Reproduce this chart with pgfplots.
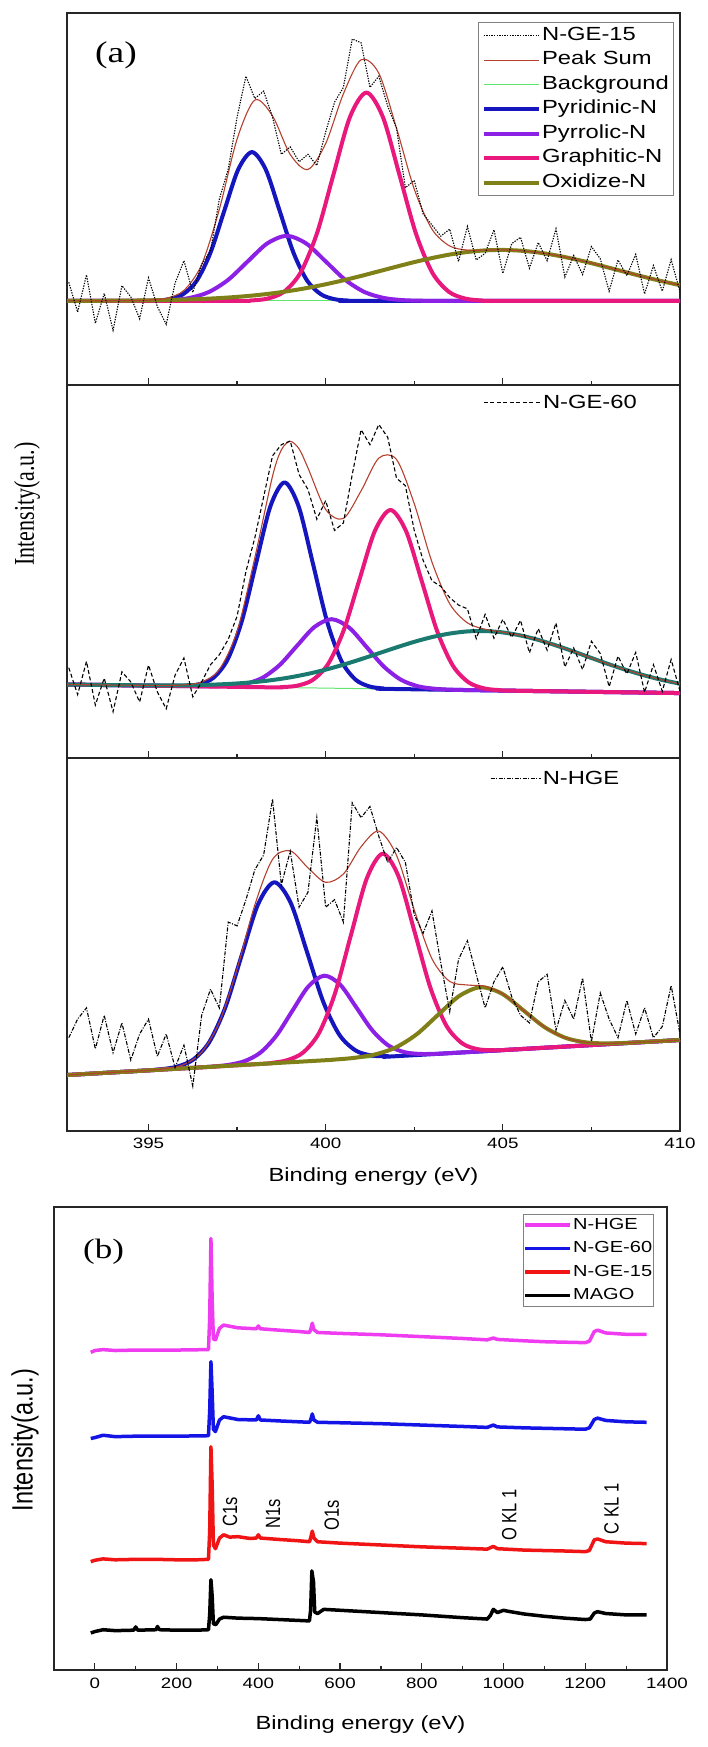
\documentclass[border=0pt]{standalone}
\usepackage{graphicx}
\usepackage{pgfplots}
\pgfplotsset{compat=1.18}
\usepackage{fontspec}
\setmainfont{Liberation Sans}[FakeStretch=1.25]
\newfontfamily\sansplain{Liberation Sans}
\newfontfamily\serifwide{Liberation Serif}[FakeStretch=1.25]
\newfontfamily\serifplain{Liberation Serif}

\definecolor{cBlue}{RGB}{22,22,190}
\definecolor{cPurple}{RGB}{140,32,228}
\definecolor{cPink}{RGB}{232,24,124}
\definecolor{cOlive}{RGB}{128,128,24}
\definecolor{cTeal}{RGB}{26,122,112}
\definecolor{cSum}{RGB}{180,64,46}
\definecolor{cBg}{RGB}{96,230,110}
\definecolor{cMag}{RGB}{240,60,240}
\definecolor{cBlueB}{RGB}{20,20,230}
\definecolor{cRed}{RGB}{240,20,20}

\pgfplotsset{
  frameA/.style={
    scale only axis, width=613pt,
    xmin=392.7, xmax=410, ymin=0, ymax=1,
    xtick={395,400,405,410}, minor xtick={397.5,402.5,407.5},
    ytick=\empty, xtick pos=bottom, tick align=inside,
    major tick length=7pt, minor tick length=4pt,
    axis line style={line width=1.4pt, black!85},
    every tick/.style={line width=1.2pt, black!85},
    /pgf/number format/assume math mode=true,
    /pgf/number format/1000 sep={},
    ticklabel style={font=\fontsize{15}{15}\selectfont},
  },
  comp/.style={line width=4pt, smooth, forget plot, line join=round},
  sumline/.style={cSum, line width=1.1pt, smooth, forget plot},
  bgline/.style={cBg, line width=1pt, forget plot},
}

\begin{document}
\begin{tikzpicture}
\path[use as bounding box] (0pt,0pt) rectangle (707pt,1747pt);

%================ TOP PANEL (N-GE-15)
\begin{axis}[frameA, at={(67pt,1362pt)}, anchor=south west, height=372pt,
  xticklabels={,,,},
  legend style={at={(0.990,0.976)}, anchor=north east, draw=black!50, line width=1pt,
    fill=white, font=\fontsize{19}{19}\selectfont, inner xsep=3pt, inner ysep=3pt,
    row sep=4pt, nodes={inner sep=1.5pt, text height=13.5pt, text depth=4pt}},
  legend cell align=left,
  legend image code/.code={\draw[#1] (0pt,0pt) -- (55pt,0pt);}]
\addlegendimage{black, line width=1.1pt, dash pattern=on 1.3pt off 1.3pt}
\addlegendentry{N-GE-15}
\addlegendimage{cSum, line width=1.1pt}
\addlegendentry{Peak Sum}
\addlegendimage{cBg, line width=1.1pt}
\addlegendentry{Background}
\addlegendimage{cBlue, line width=4pt}
\addlegendentry{Pyridinic-N}
\addlegendimage{cPurple, line width=4pt}
\addlegendentry{Pyrrolic-N}
\addlegendimage{cPink, line width=4pt}
\addlegendentry{Graphitic-N}
\addlegendimage{cOlive, line width=4pt}
\addlegendentry{Oxidize-N}

\addplot[bgline] coordinates {(392.7,.226)(410,.226)};
\addplot[cBlue, comp] coordinates {(392.7,.226)(394.80,.2261)(395.19,.2269)(395.58,.2304)(395.97,.2436)(396.36,.2801)(396.75,.3559)(397.14,.4686)(397.53,.5790)(397.92,.6260)(398.31,.5790)(398.70,.4686)(399.09,.3559)(399.48,.2801)(399.87,.2436)(400.26,.2304)(400.65,.2269)(401.04,.2261)(410,.226)};
\addplot[cPurple, comp] coordinates {(392.7,.226)(394.50,.2260)(395.05,.2264)(395.60,.2279)(396.15,.2337)(396.70,.2497)(397.25,.2828)(397.80,.3321)(398.35,.3804)(398.90,.4010)(399.45,.3804)(400.00,.3321)(400.55,.2828)(401.10,.2497)(401.65,.2337)(402.20,.2279)(402.75,.2264)(403.30,.2260)(410,.226)};
\addplot[cPink, comp] coordinates {(392.7,.226)(397.43,.2262)(397.895,.2272)(398.36,.2322)(398.825,.2506)(399.29,.3018)(399.755,.4078)(400.22,.5656)(400.685,.7202)(401.15,.7860)(401.615,.7202)(402.08,.5656)(402.545,.4078)(403.01,.3018)(403.475,.2506)(403.94,.2322)(404.405,.2272)(404.87,.2262)(410,.226)};
\addplot[cOlive, comp] coordinates {(392.7,.2261)(393,.2262)(393.5,.2263)(394,.2266)(394.5,.2269)(395,.2275)(395.5,.2283)(396,.2295)(396.5,.2312)(397,.2336)(397.5,.2368)(398,.2410)(398.5,.2464)(399,.2531)(399.5,.2612)(400,.2707)(400.5,.2814)(401,.2931)(401.5,.3056)(402,.3181)(402.5,.3303)(403,.3412)(403.5,.3506)(404,.3575)(404.5,.3618)(405,.3630)(405.5,.3610)(406,.3561)(406.5,.3485)(407,.3388)(407.5,.3274)(408,.3151)(408.5,.3026)(409,.2903)(409.5,.2787)(410,.2683)};
\addplot[sumline] coordinates {(392.7,.2261)(393,.2262)(393.5,.2263)(394,.2266)(394.5,.2270)(395,.2282)(395.5,.2330)(396,.2542)(396.5,.3236)(397,.4725)(397.5,.6610)(398,.7659)(398.5,.7233)(399,.6195)(399.5,.5794)(400,.6489)(400.5,.7826)(401,.8743)(401.5,.8380)(402,.6902)(402.5,.5264)(403,.4188)(403.5,.3736)(404,.3626)(404.5,.3626)(405,.3631)(405.5,.3610)(406,.3561)(406.5,.3485)(407,.3388)(407.5,.3274)(408,.3151)(408.5,.3026)(409,.2903)(409.5,.2787)(410,.2683)};
\addplot[black, line width=1.1pt, dash pattern=on 1.3pt off 1.3pt, forget plot] coordinates {(392.75,.276)(393,.196)(393.25,.296)(393.5,.166)(393.75,.246)(394,.147)(394.25,.267)(394.5,.237)(394.75,.178)(395,.288)(395.25,.211)(395.5,.163)(395.75,.274)(396,.334)(396.25,.249)(396.5,.324)(396.75,.36)(397,.50)(397.25,.58)(397.5,.72)(397.75,.83)(398,.77)(398.25,.79)(398.5,.72)(398.75,.62)(399,.64)(399.25,.60)(399.5,.62)(399.75,.59)(400,.68)(400.25,.76)(400.5,.80)(400.75,.93)(401,.92)(401.25,.80)(401.5,.83)(401.75,.75)(402,.69)(402.25,.53)(402.5,.55)(402.75,.46)(403,.43)(403.25,.40)(403.5,.419)(403.75,.332)(404,.426)(404.25,.336)(404.5,.354)(404.75,.417)(405,.300)(405.25,.380)(405.5,.397)(405.75,.314)(406,.383)(406.25,.334)(406.5,.420)(406.75,.290)(407,.348)(407.25,.297)(407.5,.372)(407.75,.339)(408,.252)(408.25,.336)(408.5,.294)(408.75,.351)(409,.245)(409.25,.321)(409.5,.252)(409.75,.337)(410,.250)};
\node[font=\serifwide\fontsize{30}{30}\selectfont] at (rel axis cs:0.08,0.886) {(a)};
\end{axis}

%================ MIDDLE PANEL (N-GE-60)
\begin{axis}[frameA, at={(67pt,989pt)}, anchor=south west, height=373pt,
  xticklabels={,,,},
  legend style={at={(0.679,0.952)}, anchor=west, draw=none, fill=none,
    font=\fontsize{19}{19}\selectfont, inner sep=0pt,
    nodes={inner sep=1.5pt}},
  legend image code/.code={\draw[#1] (0pt,0pt) -- (57pt,0pt);}]
\addplot[bgline] coordinates {(392.7,.197)(410,.174)};
\addplot[cBlue, comp] coordinates {(392.7,.197)(395.64,.1933)(396.04,.1938)(396.44,.1981)(396.84,.2156)(397.24,.2654)(397.64,.3690)(398.04,.5235)(398.44,.6748)(398.84,.7388)(399.24,.6737)(399.64,.5214)(400.04,.3658)(400.44,.2611)(400.84,.2103)(401.24,.1917)(401.64,.1863)(402.04,.1848)(410,.174)};
\addplot[cPurple, comp] coordinates {(392.7,.197)(396.25,.1924)(396.74,.1920)(397.23,.1931)(397.72,.1984)(398.21,.2147)(398.70,.2491)(399.19,.3006)(399.68,.3510)(400.17,.3721)(400.66,.3497)(401.15,.2980)(401.64,.2452)(402.13,.2095)(402.62,.1919)(403.11,.1853)(403.60,.1829)(404.09,.1820)(410,.174)};
\addplot[cPink, comp] coordinates {(392.7,.197)(398.31,.1896)(398.75,.1901)(399.19,.1937)(399.63,.2089)(400.07,.2521)(400.51,.3425)(400.95,.4771)(401.39,.6090)(401.83,.6649)(402.27,.6079)(402.71,.4748)(403.15,.3390)(403.59,.2474)(404.03,.2030)(404.47,.1866)(404.91,.1819)(405.35,.1803)(410,.174)};
\addplot[cTeal, comp] coordinates {(392.7,.1970)(393,.1967)(393.5,.1960)(394,.1955)(394.5,.1951)(395,.1947)(395.5,.1947)(396,.1949)(396.5,.1957)(397,.1973)(397.5,.1998)(398,.2036)(398.5,.2090)(399,.2162)(399.5,.2255)(400,.2368)(400.5,.2501)(401,.2650)(401.5,.2807)(402,.2965)(402.5,.3114)(403,.3241)(403.5,.3336)(404,.3393)(404.5,.3403)(405,.3366)(405.5,.3285)(406,.3166)(406.5,.3018)(407,.2854)(407.5,.2681)(408,.2511)(408.5,.2354)(409,.2213)(409.5,.2091)(410,.1991)};
\addplot[sumline] coordinates {(392.7,.1970)(393,.1967)(393.5,.1960)(394,.1955)(394.5,.1951)(395,.1947)(395.5,.1948)(396,.1959)(396.5,.2035)(397,.2373)(397.5,.3395)(398,.5365)(398.5,.7552)(398.75,.826)(399,.8487)(399.25,.8286)(399.5,.7777)(400,.6664)(400.5,.6420)(401,.7163)(401.5,.8040)(402,.8002)(402.5,.6816)(403,.5253)(403.5,.4135)(404,.3623)(404.5,.3451)(405,.3373)(405.5,.3286)(406,.3166)(406.5,.3018)(407,.2854)(407.5,.2681)(408,.2511)(408.5,.2354)(409,.2213)(409.5,.2091)(410,.1991)};
\addplot[black, line width=1.1pt, dash pattern=on 4pt off 2.5pt] coordinates {(392.75,.242)(393,.170)(393.25,.259)(393.5,.142)(393.75,.214)(394,.124)(394.25,.231)(394.5,.204)(394.75,.150)(395,.249)(395.25,.177)(395.5,.132)(395.75,.222)(396,.268)(396.25,.164)(396.5,.204)(396.75,.250)(397,.277)(397.25,.318)(397.5,.38)(397.75,.50)(398,.59)(398.25,.70)(398.5,.81)(398.75,.84)(399,.85)(399.25,.76)(399.5,.72)(399.75,.64)(400,.69)(400.25,.61)(400.5,.63)(400.75,.76)(401,.88)(401.25,.84)(401.5,.894)(401.75,.86)(402,.75)(402.25,.73)(402.5,.61)(402.75,.53)(403,.475)(403.25,.46)(403.5,.43)(403.75,.41)(404,.40)(404.25,.32)(404.5,.385)(404.75,.321)(405,.372)(405.25,.323)(405.5,.369)(405.75,.282)(406,.347)(406.25,.289)(406.5,.362)(406.75,.244)(407,.295)(407.25,.237)(407.5,.313)(407.75,.280)(408,.191)(408.25,.273)(408.5,.225)(408.75,.283)(409,.176)(409.25,.250)(409.5,.179)(409.75,.264)(410,.179)};
\addlegendentry{N-GE-60}
\end{axis}

%================ BOTTOM PANEL (N-HGE)
\begin{axis}[frameA, at={(67pt,616pt)}, anchor=south west, height=373pt,
  xticklabel style={yshift=-4pt},
  xlabel={Binding energy (eV)},
  xlabel style={at={(axis description cs:0.5,0)}, anchor=center, yshift=-46pt, font=\fontsize{19}{19}\selectfont},
  legend style={at={(0.690,0.946)}, anchor=west, draw=none, fill=none,
    font=\fontsize{19}{19}\selectfont, inner sep=0pt,
    nodes={inner sep=1.5pt}},
  legend image code/.code={\draw[#1] (0pt,0pt) -- (50pt,0pt);}]
\addplot[bgline] coordinates {(392.7,.150)(410,.2439)};
\addplot[cBlue, comp] coordinates {(392.7,.150)(394.87,.1619)(395.33,.1654)(395.79,.1722)(396.25,.1906)(396.71,.2374)(397.17,.3318)(397.63,.4710)(398.09,.6073)(398.55,.6668)(399.01,.6123)(399.47,.4810)(399.93,.3468)(400.39,.2574)(400.85,.2156)(401.31,.2022)(401.77,.2004)(402.23,.2018)(410,.2439)};
\addplot[cPurple, comp] coordinates {(392.7,.150)(396.36,.1700)(396.81,.1728)(397.26,.1773)(397.71,.1872)(398.16,.2103)(398.61,.2558)(399.06,.3222)(399.51,.3872)(399.96,.4164)(400.41,.3922)(400.86,.3320)(401.31,.2705)(401.76,.2299)(402.21,.2116)(402.66,.2066)(403.11,.2070)(403.56,.2091)(410,.2439)};
\addplot[cPink, comp] coordinates {(392.7,.150)(398.01,.1790)(398.46,.1825)(398.91,.1897)(399.36,.2101)(399.81,.2623)(400.26,.3680)(400.71,.5240)(401.16,.6769)(401.61,.7434)(402.06,.6818)(402.51,.5338)(402.96,.3827)(403.41,.2818)(403.86,.2345)(404.31,.2190)(404.76,.2167)(405.21,.2181)(410,.2439)};
\addplot[cOlive, comp] coordinates {(392.7,.150)(399.57,.1874)(400.17,.1909)(400.77,.1957)(401.37,.2047)(401.97,.2236)(402.57,.2594)(403.17,.3112)(403.77,.3619)(404.37,.3854)(404.97,.3684)(405.57,.3242)(406.17,.2789)(406.77,.2497)(407.37,.2373)(407.97,.2348)(408.57,.2366)(409.17,.2395)(410,.2439)};
\addplot[sumline] coordinates {(392.7,.1500)(393,.1516)(393.5,.1543)(394,.1571)(394.5,.1598)(395,.1628)(395.5,.1672)(396,.1783)(396.5,.2112)(397,.2916)(397.5,.4344)(398,.6059)(398.5,.7281)(399,.7511)(399.5,.7056)(400,.6667)(400.5,.6889)(401,.7621)(401.5,.8040)(402,.7390)(402.5,.5927)(403,.4617)(403.5,.4011)(404,.3914)(404.5,.3882)(405,.3671)(405.5,.3299)(406,.2906)(406.5,.2605)(407,.2432)(407.5,.2361)(408,.2349)(408.5,.2363)(409,.2386)(409.5,.2412)(410,.2439)};
\addplot[black, line width=1.1pt, dash pattern=on 4pt off 1.5pt on 1pt off 1.5pt] coordinates {(392.75,.25)(393,.30)(393.25,.33)(393.5,.22)(393.75,.31)(394,.21)(394.25,.29)(394.5,.19)(394.75,.26)(395,.30)(395.25,.20)(395.5,.26)(395.75,.17)(396,.23)(396.25,.12)(396.5,.31)(396.75,.38)(397,.33)(397.25,.56)(397.5,.55)(397.75,.62)(398,.70)(398.25,.74)(398.5,.89)(398.75,.66)(399,.75)(399.25,.60)(399.5,.64)(399.75,.84)(400,.60)(400.25,.62)(400.5,.56)(400.75,.88)(401,.84)(401.25,.87)(401.5,.79)(401.75,.72)(402,.76)(402.25,.72)(402.5,.58)(402.75,.53)(403,.59)(403.25,.45)(403.5,.32)(403.75,.46)(404,.51)(404.25,.42)(404.5,.33)(404.75,.40)(405,.44)(405.25,.36)(405.5,.31)(405.75,.29)(406,.40)(406.25,.42)(406.5,.27)(406.75,.35)(407,.30)(407.25,.41)(407.5,.24)(407.75,.37)(408,.30)(408.25,.25)(408.5,.35)(408.75,.26)(409,.33)(409.25,.25)(409.5,.28)(409.75,.39)(410,.26)};
\addlegendentry{N-HGE}
\end{axis}

\node[rotate=90, inner sep=0pt] at (27pt,1243pt) {\scalebox{1}[1.3]{\serifplain\fontsize{22}{22}\selectfont Intensity(a.u.)}};

%================ PANEL (b)
\begin{axis}[scale only axis, width=613pt, height=463pt, at={(54pt,77pt)}, anchor=south west,
  xmin=-100, xmax=1400, ymin=0, ymax=1,
  xtick={0,200,...,1400}, minor xtick={100,300,...,1300},
  ytick=\empty, xtick pos=bottom, tick align=inside,
  major tick length=7pt, minor tick length=4pt,
  axis line style={line width=1.4pt, black!85},
  every tick/.style={line width=1.2pt, black!85},
  /pgf/number format/assume math mode=true,
  /pgf/number format/1000 sep={},
  ticklabel style={font=\fontsize{15}{15}\selectfont},
  xticklabel style={yshift=-4pt},
  xlabel={Binding energy (eV)},
  xlabel style={at={(axis description cs:0.5,0)}, anchor=center, yshift=-55pt, font=\fontsize{19}{19}\selectfont},
  legend style={at={(0.979,0.985)}, anchor=north east, draw=black!50, line width=1pt,
    fill=white, font=\fontsize{16}{16}\selectfont, inner xsep=0.5pt, inner ysep=2pt,
    row sep=6pt, nodes={inner sep=1pt, text height=12pt, text depth=3.5pt}},
  legend cell align=left,
  legend image code/.code={\draw[#1] (0pt,0pt) -- (45pt,0pt);}]
\addplot[cMag, line width=3.5pt, line join=round] coordinates {(-10,.686)(0,.690)(20,.692)(50,.690)(100,.691)(150,.691)(200,.691)(278,.692)(281,.760)(284,.932)(287,.80)(290,.715)(295,.713)(305,.738)(315,.745)(350,.739)(395,.737)(400,.743)(405,.737)(450,.734)(500,.731)(525,.729)(528,.735)(532,.749)(536,.735)(545,.729)(600,.727)(700,.724)(800,.720)(900,.716)(960,.713)(975,.717)(985,.714)(1050,.711)(1100,.709)(1150,.708)(1200,.707)(1210,.710)(1222,.731)(1230,.734)(1250,.728)(1300,.725)(1350,.725)};
\addlegendentry{N-HGE}
\addplot[cBlueB, line width=3.5pt, line join=round] coordinates {(-10,.500)(0,.502)(20,.507)(50,.504)(100,.505)(200,.505)(278,.506)(281,.560)(284,.666)(287,.600)(290,.52)(295,.515)(305,.540)(315,.547)(350,.541)(395,.540)(400,.549)(405,.540)(450,.538)(500,.536)(525,.535)(528,.540)(532,.553)(536,.540)(545,.535)(600,.534)(700,.532)(800,.529)(900,.526)(960,.524)(975,.529)(985,.525)(1050,.523)(1100,.522)(1150,.521)(1200,.520)(1210,.523)(1222,.541)(1230,.544)(1250,.539)(1300,.536)(1350,.535)};
\addlegendentry{N-GE-60}
\addplot[cRed, line width=3.5pt, line join=round] coordinates {(-10,.234)(0,.237)(20,.240)(50,.238)(100,.239)(150,.239)(200,.238)(250,.238)(278,.239)(281,.300)(284,.482)(287,.40)(290,.27)(295,.262)(305,.285)(315,.292)(330,.287)(350,.288)(380,.284)(395,.285)(400,.292)(405,.285)(450,.282)(500,.279)(525,.277)(528,.285)(532,.300)(536,.285)(545,.277)(600,.274)(700,.270)(800,.266)(900,.263)(960,.261)(975,.267)(985,.262)(1050,.259)(1100,.258)(1150,.257)(1200,.2556)(1210,.258)(1222,.281)(1230,.283)(1250,.277)(1300,.274)(1350,.273)};
\addlegendentry{N-GE-15}
\addplot[black, line width=3.5pt, line join=round] coordinates {(-10,.080)(0,.083)(20,.087)(50,.085)(95,.086)(100,.093)(105,.086)(150,.087)(153,.094)(158,.087)(200,.086)(250,.086)(278,.087)(281,.120)(284,.195)(287,.160)(290,.100)(296,.098)(305,.110)(315,.114)(350,.112)(400,.111)(450,.109)(500,.107)(525,.106)(528,.130)(531,.214)(535,.190)(538,.125)(545,.122)(560,.131)(580,.130)(600,.129)(700,.124)(800,.119)(900,.113)(960,.110)(968,.118)(975,.131)(985,.124)(1000,.129)(1010,.127)(1050,.121)(1100,.116)(1150,.112)(1200,.109)(1212,.110)(1222,.123)(1230,.126)(1250,.122)(1300,.119)(1350,.119)};
\addlegendentry{MAGO}
\node[rotate=90] at (axis cs:331,.342) {\scalebox{1}[1.25]{\sansplain\fontsize{16.5}{16.5}\selectfont C1s}};
\node[rotate=90] at (axis cs:436,.337) {\scalebox{1}[1.25]{\sansplain\fontsize{16.5}{16.5}\selectfont N1s}};
\node[rotate=90] at (axis cs:580,.335) {\scalebox{1}[1.25]{\sansplain\fontsize{16.5}{16.5}\selectfont O1s}};
\node[rotate=90] at (axis cs:1014,.335) {\scalebox{1}[1.25]{\sansplain\fontsize{16.5}{16.5}\selectfont O KL 1}};
\node[rotate=90] at (axis cs:1264,.348) {\scalebox{1}[1.25]{\sansplain\fontsize{16.5}{16.5}\selectfont C KL 1}};
\node[font=\serifwide\fontsize{28}{28}\selectfont] at (rel axis cs:0.081,0.904) {(b)};
\end{axis}

\node[rotate=90, inner sep=0pt] at (25pt,307pt) {\scalebox{1}[1.25]{\sansplain\fontsize{23.5}{23.5}\selectfont Intensity(a.u.)}};
\end{tikzpicture}
\end{document}
